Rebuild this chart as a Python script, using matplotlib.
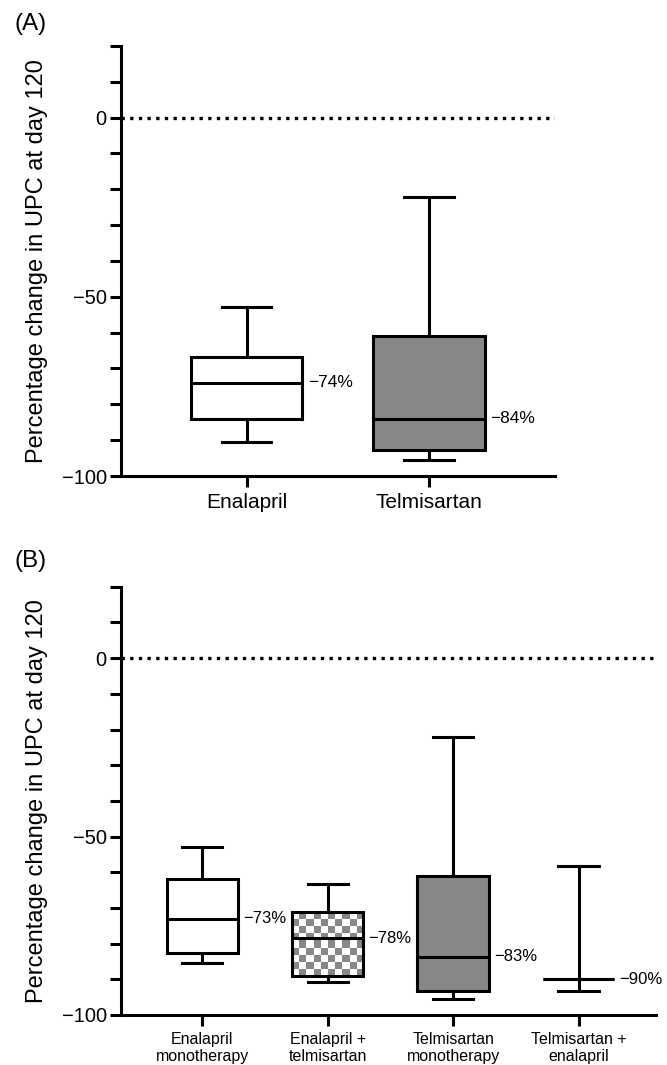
import numpy as np
import matplotlib.pyplot as plt
from matplotlib.colors import ListedColormap
from matplotlib.ticker import MultipleLocator

plt.rcParams['font.family'] = ['Liberation Sans', 'DejaVu Sans']

# Panel A
a_labels = ['Enalapril', 'Telmisartan']
a_whislo = [-90.5, -95.4]
a_q1 = [-84.2, -92.8]
a_med = [-74, -84]
a_q3 = [-66.7, -61]
a_whishi = [-52.8, -22.3]
a_text = ['\u221274%', '\u221284%']
a_fill = ['white', 'gray']

# Panel B
b_labels = ['Enalapril\nmonotherapy', 'Enalapril +\ntelmisartan',
            'Telmisartan\nmonotherapy', 'Telmisartan +\nenalapril']
b_whislo = [-85.5, -90.7, -95.4, -93.2]
b_q1 = [-82.7, -89.0, -93.2, -90]
b_med = [-73, -78.5, -83.7, -90]
b_q3 = [-62, -71.2, -61, -90]
b_whishi = [-52.9, -63.3, -22.2, -58.2]
b_text = ['\u221273%', '\u221278%', '\u221283%', '\u221290%']
b_fill = ['white', 'checker', 'gray', 'white']

GRAY = '#878787'
LW = 2.2


def draw_panel(ax, labels, whislo, q1, med, q3, whishi, texts, fills,
               width, capw, xlim, tick_fs, txt_fs, txt_off):
    stats = []
    for i in range(len(labels)):
        stats.append(dict(med=med[i], q1=q1[i], q3=q3[i],
                          whislo=whislo[i], whishi=whishi[i], label=labels[i]))
    pos = np.arange(1, len(labels) + 1)
    bp = ax.bxp(stats, positions=pos, widths=width, capwidths=capw,
                showfliers=False, patch_artist=True,
                boxprops=dict(linewidth=LW, edgecolor='black'),
                whiskerprops=dict(linewidth=LW, color='black'),
                capprops=dict(linewidth=LW, color='black'),
                medianprops=dict(linewidth=LW, color='black'))
    for box, f, p, lo, hi in zip(bp['boxes'], fills, pos, q1, q3):
        box.set_zorder(3)
        if f == 'gray':
            box.set_facecolor(GRAY)
        elif f == 'checker':
            # checkerboard texture inside the box
            nx = 10
            ny = max(1, int(round((hi - lo) / 2.05)))
            board = np.indices((ny, nx)).sum(axis=0) % 2
            ax.imshow(board, cmap=ListedColormap(['white', GRAY]),
                      extent=(p - width / 2, p + width / 2, lo, hi),
                      aspect='auto', interpolation='nearest', zorder=3.5)
            box.set_zorder(4)
            box.set_facecolor('none')
        else:
            box.set_facecolor('white')
    for m in bp['medians']:
        m.set_zorder(5)
    for p, m, t in zip(pos, med, texts):
        ax.text(p + width / 2 + txt_off, m, t, ha='left', va='center',
                fontsize=txt_fs)

    ax.axhline(0, color='black', linestyle=(0, (1, 1.6)), linewidth=2.4, zorder=2)
    ax.set_xlim(*xlim)
    ax.set_ylim(-100, 20)
    ax.yaxis.set_minor_locator(MultipleLocator(10))
    ax.set_yticks([0, -50, -100])
    ax.set_yticklabels(['0', '\u221250', '\u2212100'])
    ax.set_xticks(pos)
    ax.set_xticklabels(labels, fontsize=tick_fs)
    ax.tick_params(axis='y', which='major', length=8, width=LW, labelsize=14.5, pad=2)
    ax.tick_params(axis='y', which='minor', length=8, width=LW)
    ax.tick_params(axis='x', length=8, width=LW, pad=4)
    for s in ['top', 'right']:
        ax.spines[s].set_visible(False)
    for s in ['left', 'bottom']:
        ax.spines[s].set_linewidth(LW)
    ax.set_ylabel('Percentage change in UPC at day 120', fontsize=17, labelpad=10)


fig = plt.figure(figsize=(6.67, 10.65), dpi=100)

axA = fig.add_axes([0.181, 0.553, 0.651, 0.404])
draw_panel(axA, a_labels, a_whislo, a_q1, a_med, a_q3, a_whishi, a_text, a_fill,
           0.61, 0.27, (0.31, 2.69), 15, 12.5, 0.03)

axB = fig.add_axes([0.181, 0.047, 0.803, 0.402])
draw_panel(axB, b_labels, b_whislo, b_q1, b_med, b_q3, b_whishi, b_text, b_fill,
           0.57, 0.32, (0.35, 4.62), 11.5, 12, 0.04)

fig.text(0.022, 0.988, '(A)', fontsize=17.5, ha='left', va='top')
fig.text(0.022, 0.484, '(B)', fontsize=17.5, ha='left', va='top')

fig.savefig('out.png', dpi=100)
